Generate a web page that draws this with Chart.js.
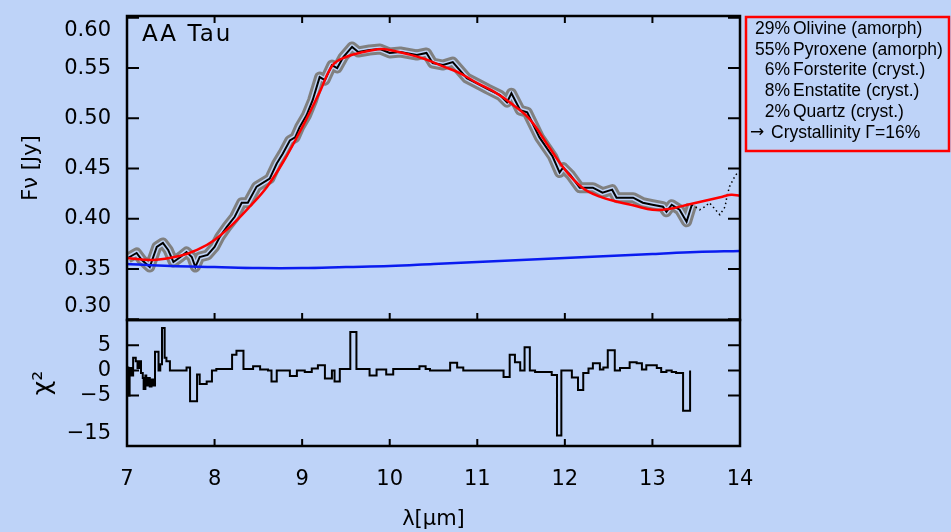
<!DOCTYPE html>
<html>
<head>
<meta charset="utf-8">
<script src="https://cdn.jsdelivr.net/npm/chart.js@4/dist/chart.umd.min.js"></script>
<style>
  html, body { margin: 0; padding: 0; background: #bed3f8; }
  #wrap { position: relative; width: 951px; height: 532px; }
</style>
</head>
<body>
<div id="wrap"><canvas id="chart"></canvas></div>
<script>
// observed spectrum (solid part)
const specWave = [7.01, 7.11, 7.17, 7.26, 7.34, 7.41, 7.47, 7.53, 7.61, 7.68, 7.74, 7.78, 7.83, 7.92, 8.00, 8.06, 8.14, 8.23, 8.31, 8.38,
  8.48, 8.63, 8.71, 8.78, 8.86, 8.92, 8.97, 9.05, 9.12, 9.20, 9.26, 9.34, 9.40, 9.47, 9.57, 9.64, 9.77, 9.89, 10.00, 10.12,
  10.31, 10.42, 10.49, 10.61, 10.72, 10.88, 10.99, 11.12, 11.26, 11.34, 11.39, 11.49, 11.57, 11.71, 11.86, 11.94, 11.98, 12.06, 12.17, 12.32,
  12.43, 12.54, 12.59, 12.78, 12.89, 13.00, 13.12, 13.16, 13.22, 13.31, 13.39, 13.45];
const specFlux = [0.361, 0.366, 0.359, 0.352, 0.372, 0.376, 0.369, 0.357, 0.362, 0.367, 0.362, 0.352, 0.362, 0.364, 0.372, 0.382, 0.392, 0.402, 0.416, 0.416,
  0.432, 0.440, 0.455, 0.465, 0.478, 0.481, 0.491, 0.503, 0.518, 0.541, 0.538, 0.553, 0.550, 0.561, 0.571, 0.566, 0.568, 0.569, 0.565, 0.566,
  0.563, 0.565, 0.555, 0.553, 0.556, 0.540, 0.535, 0.529, 0.523, 0.516, 0.525, 0.508, 0.506, 0.481, 0.462, 0.446, 0.451, 0.444, 0.431, 0.431,
  0.426, 0.429, 0.421, 0.421, 0.416, 0.414, 0.412, 0.407, 0.414, 0.409, 0.397, 0.414];

// dotted tail beyond 13.45 um
const tailWave = [13.45, 13.54, 13.60, 13.65, 13.74, 13.77, 13.83, 13.85, 13.88, 13.94, 13.98];
const tailFlux = [0.414, 0.409, 0.412, 0.416, 0.407, 0.404, 0.412, 0.422, 0.432, 0.442, 0.447];

// model fit
const modelWave = [7.0, 7.3, 7.6, 7.8, 8.0, 8.2, 8.4, 8.6, 8.8, 9.0, 9.2, 9.35, 9.5, 9.7, 9.9, 10.0, 10.2, 10.4, 10.6, 10.8,
  11.0, 11.2, 11.4, 11.6, 11.8, 12.0, 12.2, 12.4, 12.6, 12.8, 13.0, 13.2, 13.4, 13.6, 13.8, 13.9, 14.0];
const modelFlux = [0.361, 0.359, 0.363, 0.369, 0.379, 0.394, 0.412, 0.432, 0.459, 0.491, 0.526, 0.553, 0.561, 0.566, 0.569, 0.568, 0.564, 0.559, 0.552, 0.545,
  0.535, 0.526, 0.514, 0.499, 0.474, 0.449, 0.431, 0.422, 0.417, 0.413, 0.409, 0.410, 0.414, 0.418, 0.422, 0.424, 0.423];

// continuum
const contWave = [7.0, 7.5, 8.0, 8.5, 9.0, 9.5, 10.0, 10.5, 11.0, 11.5, 12.0, 12.5, 13.0, 13.5, 14.0];
const contFlux = [0.355, 0.353, 0.352, 0.351, 0.351, 0.352, 0.353, 0.355, 0.357, 0.359, 0.361, 0.363, 0.365, 0.367, 0.368];

// chi^2 residuals, bin start + value
const chiWave = [7.00, 7.015, 7.03, 7.05, 7.07, 7.10, 7.12, 7.14, 7.16, 7.18,
  7.19, 7.21, 7.22, 7.24, 7.26, 7.28, 7.30, 7.32, 7.36, 7.38,
  7.40, 7.43, 7.45, 7.49, 7.68, 7.72, 7.80, 7.83, 7.91, 7.97,
  8.02, 8.20, 8.25, 8.33, 8.44, 8.52, 8.61, 8.65, 8.71, 8.86,
  8.94, 9.03, 9.11, 9.18, 9.26, 9.34, 9.37, 9.43, 9.55, 9.62,
  9.77, 9.85, 9.96, 10.04, 10.34, 10.41, 10.46, 10.69, 10.77, 10.84,
  11.30, 11.37, 11.43, 11.49, 11.54, 11.60, 11.66, 11.85, 11.91, 11.96,
  12.08, 12.15, 12.21, 12.27, 12.32, 12.40, 12.44, 12.49, 12.57, 12.63,
  12.74, 12.82, 12.88, 12.93, 13.05, 13.10, 13.16, 13.22, 13.27, 13.35,
  13.43];
const chiVal = [0.6, -5.0, 0.5, -1.0, 2.5, 1.8, 0.5, 1.8, -0.5, -1.5,
  -3.7, -1.0, -3.0, -1.5, -3.2, -1.8, -3.0, 3.7, 0.0, 1.2,
  8.4, 2.5, 1.8, 0.0, 0.6, -6.1, -0.8, -2.7, -2.2, 0.0,
  0.3, 3.1, 3.9, 0.3, 0.8, 0.2, 0.0, -2.2, 0.0, -1.1,
  0.0, -0.3, 0.4, 1.0, -1.6, 0.0, -2.2, 0.3, 7.6, 0.3,
  -1.0, 0.2, -0.8, 0.3, 0.8, 0.3, 0.0, 1.5, 0.6, 0.0,
  -1.3, 3.1, 1.6, 0.0, 4.6, 0.0, -0.3, -0.9, -12.9, 0.0,
  -1.4, -3.9, -0.5, 0.4, 1.4, 0.2, 0.6, 4.0, 0.0, 0.5,
  1.6, 1.4, 0.2, 1.0, 0.5, -0.3, 0.0, -0.3, -0.5, -8.0,
  0.0];

// tick labels
const waveTicks = [7, 8, 9, 10, 11, 12, 13, 14];
const fluxTicks = [0.30, 0.35, 0.40, 0.45, 0.50, 0.55, 0.60];
const chiTicks = [5, 0, -5, -15];

// composition box
const compPct = [29, 55, 6, 8, 2];
const compNames = ['Olivine (amorph)', 'Pyroxene (amorph)', 'Forsterite (cryst.)', 'Enstatite (cryst.)', 'Quartz (cryst.)'];
const crystallinity = 16;

const BG = '#bed3f8';
const pts = (xs, ys) => xs.map((x, i) => ({x: x, y: ys[i]}));

Chart.defaults.font.family = '"DejaVu Sans", sans-serif';
Chart.defaults.color = '#000';

// edge labels are pushed inside the panel, like the original plot
const edgeLabel = (text, i, n) => i === n - 1 ? ['', text] : (i === 0 ? [text, ''] : text);

// frame, inward ticks, object name and composition box
const decor = {
    id: 'decor',
    afterDraw(chart) {
        const {ctx} = chart;
        const x = chart.scales.x, flux = chart.scales.flux, chi = chart.scales.chi;
        ctx.save();
        ctx.strokeStyle = '#000';
        ctx.lineWidth = 2.5;
        [flux, chi].forEach(s => ctx.strokeRect(x.left, s.top, x.right - x.left, s.bottom - s.top));

        ctx.lineWidth = 2;
        ctx.beginPath();
        x.ticks.forEach(t => {
            const px = x.getPixelForValue(t.value);
            ctx.moveTo(px, flux.top); ctx.lineTo(px, flux.top + 7);
            ctx.moveTo(px, flux.bottom); ctx.lineTo(px, flux.bottom - 7);
            ctx.moveTo(px, chi.bottom); ctx.lineTo(px, chi.bottom - 7);
        });
        [flux, chi].forEach(s => {
            s.ticks.forEach(t => {
                const py = s.getPixelForValue(t.value);
                ctx.moveTo(x.left, py); ctx.lineTo(x.left + 12, py);
                ctx.moveTo(x.right, py); ctx.lineTo(x.right - 12, py);
            });
        });
        ctx.stroke();

        ctx.fillStyle = '#000';
        ctx.textBaseline = 'middle';
        ctx.font = '23px "DejaVu Sans"';
        ctx.letterSpacing = '2px';
        ctx.fillText('AA Tau', x.left + 15, flux.top + 19);
        ctx.letterSpacing = '0px';

        // composition box
        const bx = x.right + 6, by = flux.top + 1;
        ctx.strokeStyle = '#ff0000';
        ctx.lineWidth = 2.5;
        ctx.strokeRect(bx, by, 949 - bx, 134);
        ctx.font = '17.5px "Liberation Sans"';
        const lineH = 20.8, y0 = by + 12;
        compNames.forEach((name, i) => {
            ctx.textAlign = 'right';
            ctx.fillText(compPct[i] + '%', bx + 44, y0 + i * lineH);
            ctx.textAlign = 'left';
            ctx.fillText(name, bx + 47, y0 + i * lineH);
        });
        ctx.textAlign = 'left';
        ctx.font = '17px "DejaVu Sans"';
        ctx.fillText('\u2192', bx + 4, y0 + 5 * lineH);
        ctx.font = '17.5px "Liberation Sans"';
        ctx.fillText('Crystallinity \u0393=' + crystallinity + '%', bx + 25, y0 + 5 * lineH);
        ctx.restore();
    }
};

const noGrid = {display: false, drawTicks: false};
const fitY = s => { s.width = 127; s.paddingTop = 0; s.paddingBottom = 0; };

new Chart(document.getElementById('chart'), {
    type: 'line',
    data: {
        datasets: [
            {data: pts(specWave, specFlux), yAxisID: 'flux', borderColor: '#808080', borderWidth: 11, borderJoinStyle: 'round', order: 6},
            {data: pts(specWave, specFlux), yAxisID: 'flux', borderColor: BG, borderWidth: 5, borderJoinStyle: 'round', order: 5},
            {data: pts(specWave, specFlux), yAxisID: 'flux', borderColor: '#000000', borderWidth: 2, order: 4},
            {data: pts(tailWave, tailFlux), yAxisID: 'flux', borderColor: '#000000', borderWidth: 1.5, borderDash: [1.5, 3], order: 3},
            {data: pts(contWave, contFlux), yAxisID: 'flux', borderColor: '#0a1cf0', borderWidth: 2.5, tension: 0.4, order: 2},
            {data: pts(modelWave, modelFlux), yAxisID: 'flux', borderColor: '#ff0000', borderWidth: 2.5, tension: 0.4, order: 1},
            {data: pts(chiWave, chiVal), yAxisID: 'chi', borderColor: '#000000', borderWidth: 2, stepped: 'before', order: 0}
        ]
    },
    options: {
        responsive: true,
        maintainAspectRatio: false,
        animation: false,
        elements: {point: {radius: 0}},
        layout: {padding: {left: 0, top: 16, right: 211, bottom: 0}},
        plugins: {legend: {display: false}, tooltip: {enabled: false}},
        scales: {
            x: {
                type: 'linear', position: 'bottom', min: 7, max: 14,
                grid: noGrid, border: {display: false},
                afterBuildTicks: s => { s.ticks = waveTicks.map(v => ({value: v})); },
                ticks: {padding: 21, font: {size: 21}, maxRotation: 0, autoSkip: false},
                title: {display: true, text: 'λ[μm]', font: {size: 21}, padding: {top: 0, bottom: 0}},
                afterFit: s => { s.height = 86; }
            },
            chi: {
                type: 'linear', position: 'left', stack: 'panels', stackWeight: 126, min: -15, max: 10,
                grid: noGrid, border: {display: false},
                afterBuildTicks: s => { s.ticks = chiTicks.map(v => ({value: v})); },
                ticks: {padding: 16, font: {size: 21}, autoSkip: false,
                    callback: (v, i, t) => {
                        const txt = v < 0 ? '\u2212' + Math.abs(v) : String(v);
                        return v === -15 ? [txt, ''] : txt;
                    }},
                title: {display: true, text: 'χ²', font: {size: 25}, padding: {top: 28, bottom: 0}},
                afterFit: fitY
            },
            flux: {
                type: 'linear', position: 'left', stack: 'panels', stackWeight: 304, min: 0.2993, max: 0.6018,
                grid: noGrid, border: {display: false},
                afterBuildTicks: s => { s.ticks = fluxTicks.map(v => ({value: v})); },
                ticks: {padding: 16, font: {size: 21}, autoSkip: false,
                    callback: (v, i, t) => edgeLabel(v.toFixed(2), i, t.length)},
                title: {display: true, text: 'Fν [Jy]', font: {size: 21}, padding: {top: 19, bottom: 0}},
                afterFit: fitY
            }
        }
    },
    plugins: [decor]
});
</script>
</body>
</html>
